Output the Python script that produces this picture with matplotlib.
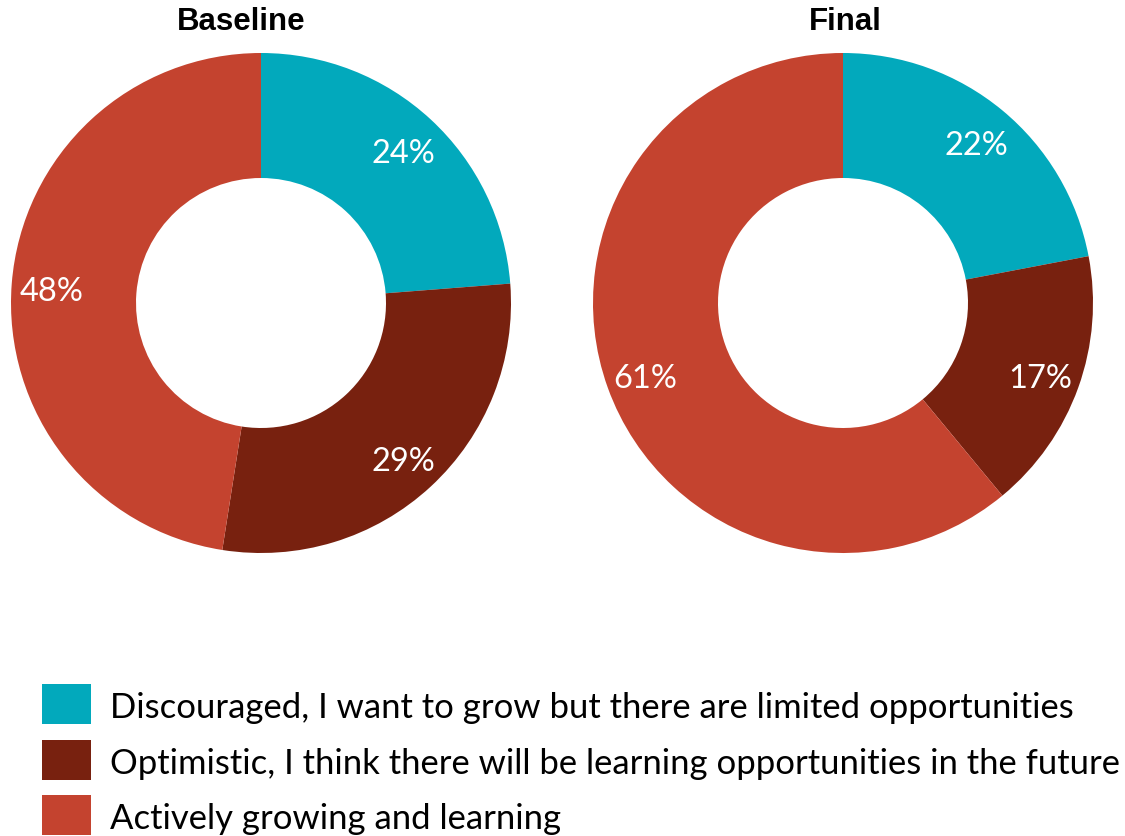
import matplotlib
matplotlib.use('Agg')
import matplotlib.pyplot as plt
from matplotlib.patches import Rectangle
from matplotlib.transforms import offset_copy

categories = ["Discouraged, I want to grow but there are limited opportunities",
              "Optimistic, I think there will be learning opportunities in the future",
              "Actively growing and learning"]
baseline = [24, 29, 48]
final = [22, 17, 61]
titles = ["Baseline", "Final"]
colors = ["#02A9BC", "#78210F", "#C4432F"]

plt.rcParams['font.family'] = ['Lato', 'DejaVu Sans']

W, H = 1125, 836
fig = plt.figure(figsize=(W / 100, H / 100), dpi=100)

def donut(cx, cy, vals, title, tx):
    r = 250
    ax = fig.add_axes([(cx - r) / W, (H - cy - r) / H, 2 * r / W, 2 * r / H])
    _, _, pcts = ax.pie(vals, colors=colors, startangle=90, counterclock=False, radius=1,
                        wedgeprops=dict(width=0.5, linewidth=0),
                        autopct=lambda p: "%d%%" % round(p * sum(vals) / 100),
                        pctdistance=0.84,
                        textprops=dict(color="white", fontsize=23.5))
    # nudge the percent labels down a little
    for t in pcts:
        t.set_transform(offset_copy(ax.transData, fig=fig, x=0, y=-5, units='dots'))
    ax.set_xlim(-1, 1)
    ax.set_ylim(-1, 1)
    ax.set_aspect('equal')
    ax.axis('off')
    fig.text(tx / W, 1 - 22 / H, title, ha='center', va='center',
             fontsize=22.5, fontweight='bold', family='Liberation Sans')

donut(261, 303, baseline, titles[0], 241)
donut(843, 303, final, titles[1], 845)

# legend drawn by hand so the boxes sit where they should
for i, (lab, c) in enumerate(zip(categories, colors)):
    y0 = 684 + i * 55.5
    fig.add_artist(Rectangle((42 / W, 1 - (y0 + 40) / H), 49 / W, 40 / H,
                             transform=fig.transFigure, color=c, lw=0))
    fig.text(110 / W, 1 - (y0 + 24) / H, lab, ha='left', va='center',
             fontsize=24.9, color='black')

fig.savefig("out.png", dpi=100)
